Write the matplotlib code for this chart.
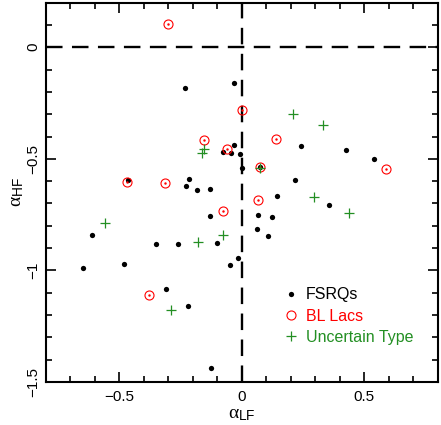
import matplotlib
matplotlib.use("Agg")
import matplotlib.pyplot as plt

plt.rcParams['font.family'] = ['Liberation Sans', 'DejaVu Sans']
plt.rcParams['mathtext.fontset'] = 'custom'
plt.rcParams['mathtext.rm'] = 'Liberation Sans'
plt.rcParams['mathtext.it'] = 'Liberation Serif'
plt.rcParams['mathtext.sf'] = 'Liberation Sans'

# FSRQs (alpha_LF, alpha_HF)
fsrq_x = [-0.234, -0.034, -0.031, -0.078, -0.045, -0.008, -0.001, 0.072, -0.464, -0.216,
          -0.227, -0.183, -0.132, 0.243, 0.426, 0.541, 0.216, 0.142, -0.131, 0.066,
          0.061, -0.613, -0.350, -0.262, -0.100, -0.014, -0.048, -0.482, -0.649, -0.309,
          -0.221, -0.126, 0.355, 0.122, 0.108]
fsrq_y = [-0.182, -0.160, -0.438, -0.469, -0.472, -0.480, -0.540, -0.537, -0.593, -0.592,
          -0.622, -0.640, -0.634, -0.444, -0.459, -0.502, -0.593, -0.667, -0.755, -0.750,
          -0.816, -0.840, -0.880, -0.883, -0.877, -0.945, -0.976, -0.969, -0.991, -1.081,
          -1.161, -1.439, -0.705, -0.762, -0.845]

# BL Lacs
bll_x = [-0.303, 0.000, -0.156, -0.061, 0.072, -0.468, -0.313, 0.066, 0.139, 0.589, -0.078, -0.378]
bll_y = [0.106, -0.282, -0.414, -0.454, -0.537, -0.605, -0.610, -0.684, -0.410, -0.547, -0.732, -1.109]

# Uncertain type
unc_x = [-0.155, -0.163, 0.074, 0.210, 0.333, 0.294, 0.439, -0.557, -0.078, -0.180, -0.291]
unc_y = [-0.458, -0.476, -0.540, -0.300, -0.347, -0.671, -0.741, -0.786, -0.839, -0.871, -1.175]

labels = ['FSRQs', 'BL Lacs', 'Uncertain Type']
colors = ['black', '#ff0000', '#238f23']

fig = plt.figure(figsize=(4.41, 4.25), dpi=100)
ax = fig.add_axes([0.104, 0.101, 0.889, 0.893])

ax.axvline(0, color='black', lw=1.7, dashes=(7, 4), zorder=1)
ax.axhline(0, color='black', lw=1.7, dashes=(7, 4), zorder=1)

ax.plot(fsrq_x, fsrq_y, 'o', color=colors[0], ms=3.8, mew=0, label=labels[0], zorder=3)
ax.plot(bll_x, bll_y, 'o', mfc='none', mec=colors[1], ms=6.5, mew=0.8, label=labels[1], zorder=4)
ax.plot(bll_x, bll_y, '.', color=colors[1], ms=1.5, zorder=4)
ax.plot(unc_x, unc_y, '+', color=colors[2], ms=7, mew=0.9, label=labels[2], zorder=5)

ax.set_xlim(-0.8, 0.8)
ax.set_ylim(-1.5, 0.2)
ax.set_xticks([-0.5, 0, 0.5])
ax.set_xticklabels(['\u22120.5', '0', '0.5'])
ax.set_yticks([-1.5, -1, -0.5, 0])
ax.set_yticklabels(['\u22121.5', '\u22121', '\u22120.5', '0'], rotation=90, va='center')
ax.set_xticks([i / 10 for i in range(-8, 9)], minor=True)
ax.set_yticks([i / 10 for i in range(-15, 3)], minor=True)
ax.tick_params(which='both', direction='in', top=True, right=True, labelsize=11, width=1.2)
ax.tick_params(which='major', length=7)
ax.tick_params(which='minor', length=4)
ax.tick_params(axis='x', which='major', pad=6)
ax.tick_params(axis='y', which='major', pad=4)
for s in ax.spines.values():
    s.set_linewidth(1.5)

ax.set_xlabel(r'$\alpha_{\mathrm{LF}}$', fontsize=14, labelpad=1)
ax.set_ylabel(r'$\alpha_{\mathrm{HF}}$', fontsize=14, labelpad=0)

leg = ax.legend(loc='upper left', bbox_to_anchor=(0.605, 0.25), frameon=False,
                fontsize=11.5, handlelength=1.0, handletextpad=0.45, labelspacing=0.4,
                borderpad=0, borderaxespad=0)
for t, c in zip(leg.get_texts(), colors):
    t.set_color(c)

fig.savefig('out.png', dpi=100)
